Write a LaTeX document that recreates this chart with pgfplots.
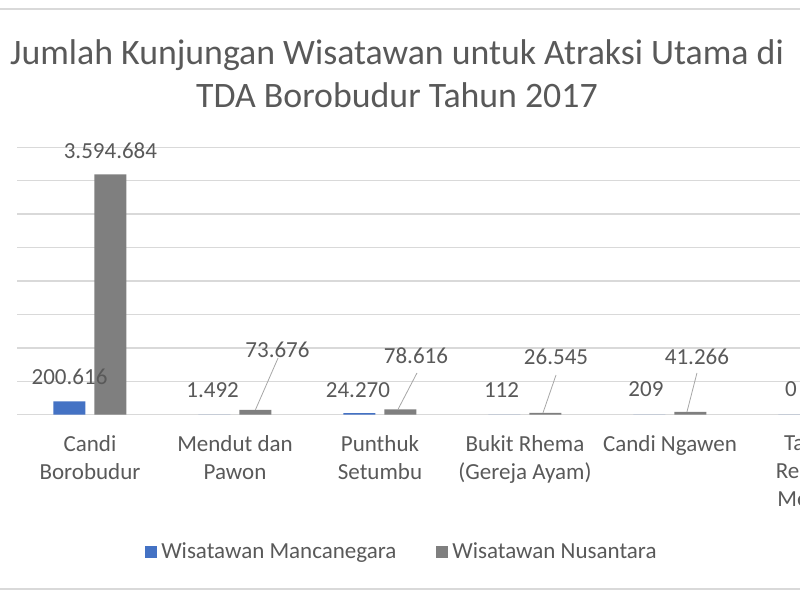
\documentclass[border=0pt]{standalone}
\usepackage{pgfplots}
\pgfplotsset{compat=1.18}
\usepackage{fontspec}
\setmainfont{Carlito}
\definecolor{mancanegara}{HTML}{4472C4}
\definecolor{nusantara}{HTML}{7F7F7F}
\definecolor{teks}{HTML}{595959}
\definecolor{kisi}{HTML}{D9D9D9}
\definecolor{garis}{HTML}{A6A6A6}

\begin{document}
\begin{tikzpicture}
% the reference is a cut from a wider chart: keep only this window
\useasboundingbox (0,0) rectangle (400pt,300pt);
\clip (0,0) rectangle (400pt,300pt);
\draw[kisi, line width=1pt] (-5pt,295.5pt) -- (405pt,295.5pt);
\draw[kisi, line width=1pt] (-5pt,5.5pt) -- (405pt,5.5pt);
\node[text=teks, align=center, font=\fontsize{17.9}{21.5}\selectfont] at (198.5pt,263pt)
  {Jumlah Kunjungan Wisatawan untuk Atraksi Utama di\\TDA Borobudur Tahun 2017};

\begin{axis}[
  at={(8.75pt,92.65pt)}, anchor=south west,
  width=435pt, height=133.7pt, scale only axis,
  clip=false,
  ybar=4.5pt, bar width=16pt,
  xmin=-0.5, xmax=5.5, ymin=0, ymax=4000000,
  ytick distance=500000, yticklabels={}, scaled y ticks=false,
  ymajorgrids, grid style={kisi, line width=0.75pt},
  axis line style={draw=none}, major tick length=0pt,
  xtick={0,...,5},
  xticklabels={Candi\\Borobudur, Mendut dan\\Pawon, Punthuk\\Setumbu,
    Bukit Rhema\\(Gereja Ayam), Candi Ngawen, Taman\\Rekreasi\\Mendut},
  xticklabel style={align=center, text=teks, yshift=-7pt,
    font=\fontsize{11.5}{14}\selectfont},
  legend columns=2,
  legend style={at={(0.443,-0.513)}, anchor=center, draw=none, fill=none,
    text=teks, font=\fontsize{11.5}{14}\selectfont,
    /tikz/every even column/.append style={column sep=18pt}},
  legend image code/.code={\fill[#1] (0pt,-3pt) rectangle (6pt,3pt);},
]
\addplot[draw=none, fill=mancanegara] coordinates {
  (0,200616) (1,1492) (2,24270) (3,112) (4,209) (5,0)};
\addlegendentry{Wisatawan Mancanegara}
\addplot[draw=none, fill=nusantara] coordinates {
  (0,3594684) (1,73676) (2,78616) (3,26545) (4,41266)};
\addlegendentry{Wisatawan Nusantara}

% data labels, where Excel left them
\tikzset{lbl/.style={font=\fontsize{11.5}{14}\selectfont, text=teks, inner sep=0pt}}
\node[lbl] at (axis cs:-0.141,564000) {200.616};
\node[lbl] at (axis cs:0.141,3949000) {3.594.684};
\node[lbl] at (axis cs:0.846,369000) {1.492};
\node[lbl] at (axis cs:1.293,968000) {73.676};
\node[lbl] at (axis cs:1.848,369000) {24.270};
\node[lbl] at (axis cs:2.248,878000) {78.616};
\node[lbl] at (axis cs:2.838,369000) {112};
\node[lbl] at (axis cs:3.214,863000) {26.545};
\node[lbl] at (axis cs:3.834,384000) {209};
\node[lbl] at (axis cs:4.186,863000) {41.266};
\node[lbl] at (axis cs:4.834,384000) {0};
\draw[garis] (axis cs:1.297,848000) -- (axis cs:1.141,73676);
\draw[garis] (axis cs:2.255,624000) -- (axis cs:2.124,78616);
\draw[garis] (axis cs:3.214,594000) -- (axis cs:3.124,26545);
\draw[garis] (axis cs:4.186,624000) -- (axis cs:4.117,41266);
\end{axis}
\end{tikzpicture}
\end{document}
